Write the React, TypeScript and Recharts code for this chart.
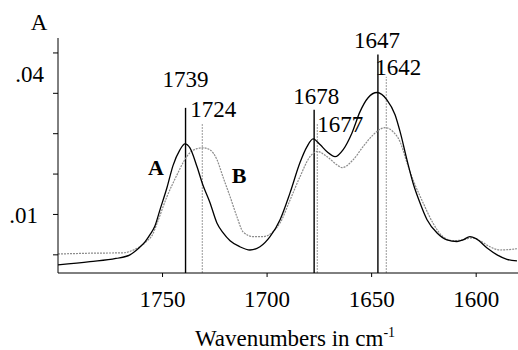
import React from "react";
import { LineChart, Line, XAxis, YAxis, ReferenceLine, ReferenceDot } from "recharts";

// spectrum A (solid)
const aWavenumbers = [
    1800, 1784.7, 1772.3, 1765.6, 1761.3, 1758.4, 1756.0, 1753.6, 1751.2, 1747.9,
    1745.0, 1741.7, 1739.3, 1736.9, 1733.5, 1730.7, 1727.3, 1724.0, 1721.1, 1717.7,
    1713.0, 1708.2, 1703.4, 1698.6, 1693.8, 1689.0, 1684.3, 1680.9, 1678.0, 1674.7,
    1671.3, 1667.5, 1663.7, 1659.4, 1655.6, 1651.7, 1647.4, 1642.7, 1638.8, 1636.4,
    1633.1, 1630.2, 1626.9, 1623.5, 1618.7, 1614.0, 1609.2, 1606.3, 1603.0, 1600.1,
    1594.8, 1590.0, 1585.3, 1580.5,
];
const aAbsorbance = [
    -0.0025, -0.0017, -0.0009, 0.0, 0.0017, 0.0032, 0.005, 0.0072, 0.0112, 0.0166,
    0.0221, 0.026, 0.0275, 0.0265, 0.0218, 0.0173, 0.0129, 0.0079, 0.0055, 0.0035,
    0.002, 0.0012, 0.002, 0.0045, 0.0087, 0.0154, 0.0228, 0.0268, 0.0287, 0.0273,
    0.0255, 0.0243, 0.026, 0.0302, 0.0354, 0.0389, 0.0402, 0.0384, 0.0347, 0.0305,
    0.0235, 0.0178, 0.0129, 0.0087, 0.0054, 0.0037, 0.0033, 0.0037, 0.0045, 0.004,
    0.0017, 0.0, -0.0011, -0.0015,
];

// spectrum B (dotted)
const bWavenumbers = [
    1800, 1784.7, 1768.9, 1762.7, 1757.9, 1754.6, 1752.7, 1747.9, 1743.1, 1740.2,
    1736.9, 1733.5, 1730.7, 1727.3, 1724.0, 1721.1, 1717.7, 1714.4, 1711.5, 1706.7,
    1702.0, 1697.2, 1693.8, 1689.0, 1684.3, 1679.5, 1676.1, 1671.3, 1666.6, 1664.2,
    1658.9, 1654.1, 1649.3, 1643.6, 1639.8, 1636.4, 1633.1, 1630.2, 1625.4, 1620.7,
    1615.9, 1611.1, 1606.3, 1602.0, 1598.2, 1593.4, 1588.6, 1580.5,
];
const bAbsorbance = [
    0.0002, 0.0004, 0.0005, 0.0015, 0.0032, 0.0052, 0.0077, 0.0144, 0.0198, 0.0228,
    0.0253, 0.0263, 0.0265, 0.026, 0.0236, 0.0193, 0.0144, 0.0094, 0.0057, 0.0045,
    0.0045, 0.0057, 0.0079, 0.0136, 0.0193, 0.0243, 0.0256, 0.0243, 0.0223, 0.0216,
    0.0235, 0.0268, 0.0297, 0.0315, 0.0305, 0.028, 0.0228, 0.0186, 0.0129, 0.0079,
    0.0045, 0.0035, 0.0037, 0.0042, 0.0035, 0.002, 0.0012, 0.0015,
];

// peak markers (where they are drawn, what they say, how high they reach)
const peakPositions = [1739, 1731, 1677.5, 1676, 1647, 1643];
const peakLabels = ["1739", "1724", "1678", "1677", "1647", "1642"];
const peakTops = [0.0364, 0.0325, 0.0359, 0.0325, 0.0496, 0.0441];
const peakSeries = ["A", "B", "A", "B", "A", "B"];

const xTicks = [1750, 1700, 1650, 1600];
const yTicks = [0, 0.01, 0.02, 0.03, 0.04, 0.05];
const yTickLabels = ["", ".01", "", "", ".04", ""];

const X_DOMAIN = [1580, 1800];
const Y_DOMAIN = [-0.0045, 0.0537];
const FONT = "Liberation Serif";
const txt = { fontFamily: FONT, fontSize: 23 };

const dataA = aWavenumbers.map((wn, i) => ({ wn, abs: aAbsorbance[i] }));
const dataB = bWavenumbers.map((wn, i) => ({ wn, abs: bAbsorbance[i] }));

// label nudges relative to the top of each marker line
const peakLabelStyle = [
    { anchor: "middle", dx: 0, dy: -21 },
    { anchor: "start", dx: -12, dy: -7 },
    { anchor: "middle", dx: 2, dy: -6 },
    { anchor: "start", dx: 0, dy: 8 },
    { anchor: "middle", dx: -1, dy: -7 },
    { anchor: "start", dx: -11, dy: -2 },
];

const yTickNudge: Record<string, { dx: number; dy: number }> = {
    ".01": { dx: -15, dy: 9 },
    ".04": { dx: -9, dy: -11 },
};

const curveNames = [
    { name: "A", wn: 1753.1, abs: 0.0218 },
    { name: "B", wn: 1713.4, abs: 0.0198 },
];

function YTick(props: any) {
    const { x, y, index } = props;
    const text = yTickLabels[index];
    if (!text) return null;
    const n = yTickNudge[text] || { dx: 0, dy: 0 };
    return (
        <text x={x + n.dx} y={y + n.dy} textAnchor="end" style={txt} fill="#000">
            {text}
        </text>
    );
}

function XTitle(props: any) {
    const vb = props.viewBox || { x: 58, y: 273, width: 460 };
    return (
        <text x={vb.x + vb.width / 2 + 7} y={vb.y + 73} textAnchor="middle" style={txt} fill="#000">
            Wavenumbers in cm
            <tspan dy={-9} style={{ fontSize: 14 }}>-1</tspan>
        </text>
    );
}

function YTitle(props: any) {
    const vb = props.viewBox || { x: 8, y: 38 };
    return (
        <text x={vb.x + 31} y={vb.y - 8} textAnchor="middle" style={txt} fill="#000">
            A
        </text>
    );
}

export default function App() {
    return (
        <div style={{ position: "absolute", left: 0, top: 0, background: "#fff", fontFamily: FONT }}>
            <LineChart width={518} height={350} margin={{ top: 38, right: 0, bottom: 0, left: 8 }}>
                <XAxis
                    type="number"
                    dataKey="wn"
                    domain={X_DOMAIN}
                    reversed
                    allowDataOverflow
                    ticks={xTicks}
                    height={77}
                    tickSize={4}
                    tickMargin={14}
                    stroke="#000"
                    tick={{ fill: "#000", style: txt }}
                    label={<XTitle />}
                />
                <YAxis
                    type="number"
                    domain={Y_DOMAIN}
                    allowDataOverflow
                    ticks={yTicks}
                    width={50}
                    tickSize={5}
                    tickMargin={0}
                    stroke="#000"
                    tick={<YTick />}
                    label={<YTitle />}
                />

                {peakPositions.map((p, i) => (
                    <ReferenceLine
                        key={"l" + i}
                        ifOverflow="visible"
                        segment={[
                            { x: p, y: Y_DOMAIN[0] },
                            { x: p, y: peakTops[i] },
                        ]}
                        stroke={peakSeries[i] === "A" ? "#000" : "#9a9a9a"}
                        strokeWidth={peakSeries[i] === "A" ? 1.4 : 1}
                        strokeDasharray={peakSeries[i] === "A" ? undefined : "2 1"}
                    />
                ))}

                <Line
                    data={dataB}
                    dataKey="abs"
                    type="monotone"
                    stroke="#8c8c8c"
                    strokeWidth={1.2}
                    strokeDasharray="2 1"
                    dot={false}
                    activeDot={false}
                    isAnimationActive={false}
                />
                <Line
                    data={dataA}
                    dataKey="abs"
                    type="monotone"
                    stroke="#000"
                    strokeWidth={1.3}
                    dot={false}
                    activeDot={false}
                    isAnimationActive={false}
                />

                {peakPositions.map((p, i) => (
                    <ReferenceDot
                        key={"t" + i}
                        x={p}
                        y={peakTops[i]}
                        r={0}
                        ifOverflow="visible"
                        shape={(s: any) => (
                            <text
                                x={s.cx + peakLabelStyle[i].dx}
                                y={s.cy + peakLabelStyle[i].dy}
                                textAnchor={peakLabelStyle[i].anchor as any}
                                style={txt}
                                fill="#000"
                            >
                                {peakLabels[i]}
                            </text>
                        )}
                    />
                ))}

                {curveNames.map((c) => (
                    <ReferenceDot
                        key={c.name}
                        x={c.wn}
                        y={c.abs}
                        r={0}
                        ifOverflow="visible"
                        shape={(s: any) => (
                            <text
                                x={s.cx}
                                y={s.cy + 8}
                                textAnchor="middle"
                                style={{ fontFamily: FONT, fontSize: 22, fontWeight: "bold" }}
                                fill="#000"
                            >
                                {c.name}
                            </text>
                        )}
                    />
                ))}
            </LineChart>
        </div>
    );
}
